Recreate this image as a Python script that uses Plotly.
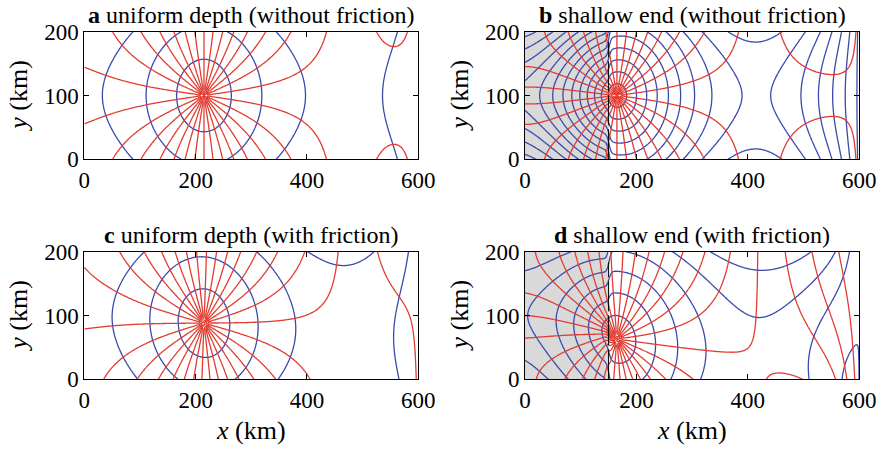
import numpy as np
import plotly.graph_objects as go

# ---------------- values ----------------
W = 200.0            # channel width (km)
L = 600.0            # channel length (km)
panel_letters = ["a", "b", "c", "d"]
panel_texts = ["uniform depth (without friction)", "shallow end (without friction)",
               "uniform depth (with friction)", "shallow end (with friction)"]
amph_x = [215.0, 165.0, 215.0, 165.0]       # amphidromic point, x (km)
amph_y = [100.0, 100.0, 88.0, 60.0]         # amphidromic point, y (km)
shelf_edge = [None, 150.0, None, 150.0]     # end of the shallow region (km)
deep_wavelength = [1000.0, 1000.0, 1000.0, 1000.0]
shallow_speed_ratio = [1.0, 0.75, 1.0, 0.75]
shallow_gain = [1.0, 1.3, 1.0, 1.3]
shallow_friction_ratio = [1.0, 1.0, 1.0, 2.5]
poincare_amp = [-0.1, -0.4, -0.1, -0.3]
poincare_decay = [60.0, 80.0, 60.0, 80.0]
open_end_decay = [50.0, 50.0, 50.0, 50.0]
amp_interval = [0.36, 0.13, 0.34, 0.25]
phase_offset_deg = [6.0, 6.0, 9.0, 0.0]
n_phase_lines = 30
rossby_k = 1.2                              # omega / f
x_ticks = [0, 200, 400, 600]
y_ticks = [0, 100, 200]

RED = "#e23b30"
BLUE = "#3a4aae"
FONT = "Liberation Serif"

# ---------------- co-tidal (phase) and co-range (amplitude) fields ----------------
xg = np.linspace(0, L, 301)
yg = np.linspace(0, W, 101)
X, Y = np.meshgrid(xg, yg)
dx = xg[1] - xg[0]


def cumint(v):
    return np.concatenate([[0.0], np.cumsum(0.5 * (v[1:] + v[:-1]) * dx)])


def tide_field(i):
    kd = 2 * np.pi / deep_wavelength[i]
    ks = kd / shallow_speed_ratio[i]
    if shelf_edge[i] is None:
        S = np.zeros_like(xg)
    else:
        S = 0.5 * (1 - np.tanh((xg - shelf_edge[i]) / 4.0))
    k = kd + (ks - kd) * S
    phi = cumint(k)
    R = rossby_k / k
    G = 1 + (shallow_gain[i] - 1) * S
    theta = 2 * np.interp(amph_x[i], xg, phi) - np.pi
    mshape = cumint(1 + (shallow_friction_ratio[i] - 1) * S)
    Ra = np.interp(amph_x[i], xg, R)
    mu = (W / 2 - amph_y[i]) / (Ra * np.interp(amph_x[i], xg, mshape))
    M = mu * mshape
    PHI, RR, GG, MM = [np.broadcast_to(v, X.shape) for v in (phi, R, G, M)]
    z = GG * (np.exp(1j * PHI) * np.exp(-(W - Y) / RR) * np.exp(MM)
              + np.exp(1j * theta) * np.exp(-1j * PHI) * np.exp(-Y / RR) * np.exp(-MM))
    # closed-end correction (first cross-channel mode)
    z = z + GG * 1j * poincare_amp[i] * np.exp(1j * theta / 2) \
        * np.exp(-X / poincare_decay[i]) * np.cos(np.pi * Y / W)
    # open-end correction: elevation uniform across the open boundary
    edge = z[:, -1]
    z = z + (edge.mean() - edge)[:, None] * np.exp(-(L - X) / open_end_decay[i])
    return z


# ---------------- layout geometry (pixels of the 880x449 page) ----------------
FW, FH = 880, 449
left_px = [84.3, 525.0, 84.3, 525.0]
right_px = [418.3, 859.3, 418.3, 859.3]
top_px = [31.7, 31.7, 251.7, 251.7]
bot_px = [159.3, 159.3, 379.3, 379.3]
xlabel_px = 430.0

fig = go.Figure()
layout = dict(width=FW, height=FH, margin=dict(l=0, r=0, t=0, b=0, autoexpand=False),
              template="none",
              paper_bgcolor="white", plot_bgcolor="white", showlegend=False,
              font=dict(family=FONT, size=23, color="black"))
annotations = []
shapes = []
half = n_phase_lines // 2

for i in range(4):
    xa = "x" if i == 0 else f"x{i+1}"
    ya = "y" if i == 0 else f"y{i+1}"
    z = tide_field(i)
    amp = np.abs(z) / amp_interval[i]
    ref = np.angle(z[np.argmin(np.abs(yg - W / 2)), 0]) + np.deg2rad(phase_offset_deg[i])
    u = z / np.abs(z)
    F = np.imag(u ** half * np.exp(-1j * half * ref))

    fig.add_trace(go.Contour(x=xg, y=yg, z=np.round(amp, 3), xaxis=xa, yaxis=ya,
                             contours=dict(start=1, end=60, size=1, coloring="none"),
                             line=dict(color=BLUE, width=1.3), showscale=False,
                             hoverinfo="skip"))
    fig.add_trace(go.Contour(x=xg, y=yg, z=np.round(F, 4), xaxis=xa, yaxis=ya,
                             contours=dict(start=0, end=0.5, size=1, coloring="none"),
                             line=dict(color=RED, width=1.3), showscale=False,
                             hoverinfo="skip"))

    xd = [left_px[i] / FW, right_px[i] / FW]
    yd = [1 - bot_px[i] / FH, 1 - top_px[i] / FH]
    axkey = "xaxis" if i == 0 else f"xaxis{i+1}"
    aykey = "yaxis" if i == 0 else f"yaxis{i+1}"
    common = dict(showgrid=False, zeroline=False, showline=True, linecolor="black",
                  linewidth=1, mirror="ticks", ticks="inside", ticklen=5,
                  tickcolor="black", automargin=False,
                  tickfont=dict(family=FONT, size=23, color="black"))
    layout[axkey] = dict(domain=xd, anchor=ya, range=[0, L], tickvals=x_ticks, **common)
    layout[aykey] = dict(domain=yd, anchor=xa, range=[0, W], tickvals=y_ticks, **common)

    cx = (left_px[i] + right_px[i]) / 2 / FW
    annotations.append(dict(text=f"<b>{panel_letters[i]}</b> {panel_texts[i]}",
                            x=cx, y=1 - (top_px[i] - 17) / FH, xref="paper", yref="paper",
                            showarrow=False, xanchor="center", yanchor="middle",
                            font=dict(family=FONT, size=24, color="black")))
    annotations.append(dict(text="<i>y</i> (km)", textangle=-90,
                            x=(left_px[i] - 66) / FW, y=(yd[0] + yd[1]) / 2,
                            xref="paper", yref="paper", showarrow=False,
                            xanchor="center", yanchor="middle",
                            font=dict(family=FONT, size=26, color="black")))
    if i >= 2:
        annotations.append(dict(text="<i>x</i> (km)", x=cx, y=1 - xlabel_px / FH,
                                xref="paper", yref="paper", showarrow=False,
                                xanchor="center", yanchor="middle",
                                font=dict(family=FONT, size=26, color="black")))
    if shelf_edge[i] is not None:
        shapes.append(dict(type="rect", xref=xa, yref=ya, x0=0, x1=shelf_edge[i],
                           y0=0, y1=W, fillcolor="#d9d9d9", line=dict(width=0),
                           layer="below"))
        shapes.append(dict(type="line", xref=xa, yref=ya, x0=shelf_edge[i], x1=shelf_edge[i],
                           y0=0, y1=184, line=dict(color="black", width=1, dash="30px,4px"),
                           layer="above"))

layout["annotations"] = annotations
layout["shapes"] = shapes
fig.update_layout(**layout)
fig.write_html("out.html", config={"displayModeBar": False},
               post_script="document.body.style.margin='0';document.body.style.overflow='hidden';")
